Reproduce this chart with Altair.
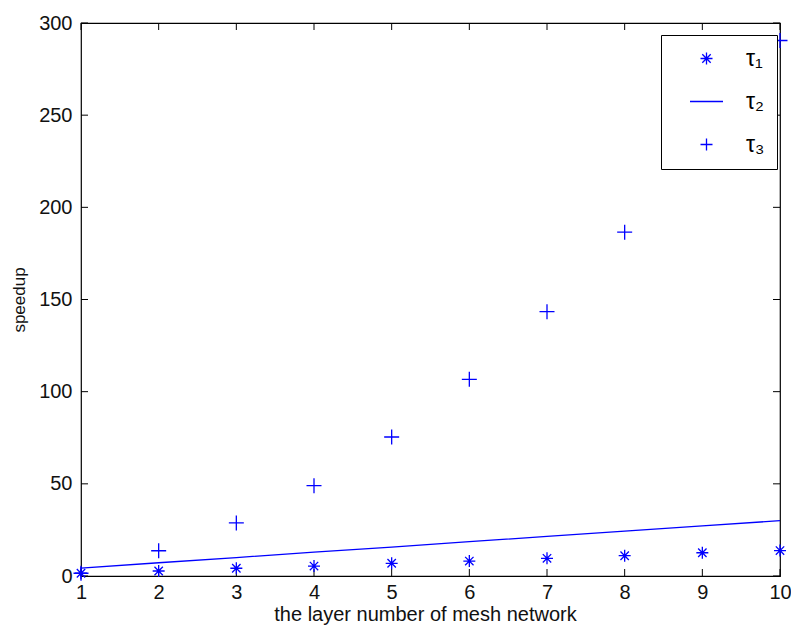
import altair as alt
import pandas as pd

BLUE = "#0000ff"
FONT = "Liberation Sans"

layers = [1, 2, 3, 4, 5, 6, 7, 8, 9, 10]
tau1 = [1.5, 2.7, 4.2, 5.4, 6.9, 8.1, 9.6, 11.0, 12.6, 13.8]
tau2 = [4.3, 7.2, 10.0, 12.9, 15.7, 18.6, 21.5, 24.3, 27.2, 30.0]
tau3 = [1.5, 13.7, 28.8, 49.0, 75.4, 106.7, 143.4, 186.5, 236.0, 290.5]
names = ["τ₁", "τ₂", "τ₃"]
x_ticks = [1, 2, 3, 4, 5, 6, 7, 8, 9, 10]
y_ticks = [0, 50, 100, 150, 200, 250, 300]

asterisk = "M-1,0H1M0,-1V1M-0.7,-0.7L0.7,0.7M-0.7,0.7L0.7,-0.7"
linepath = "M-2.75,0H2.75"
pluspath = "M-1,0H1M0,-1V1"

d1 = pd.DataFrame({"x": layers, "y": tau1, "series": [names[0]] * len(layers)})
d3 = pd.DataFrame({"x": layers, "y": tau3, "series": [names[2]] * len(layers)})
line_df = pd.DataFrame({"x": layers, "y": tau2})
xt = pd.DataFrame({"x": x_ticks})
yt = pd.DataFrame({"y": y_ticks})

W, H = 699, 553
xs = alt.Scale(domain=[1, 10], nice=False, zero=False)
ys = alt.Scale(domain=[0, 300], nice=False)

x_axis = alt.Axis(values=x_ticks, format="d", title="the layer number of mesh network",
                  labelFontSize=20, titleFontSize=20, labelPadding=6, titlePadding=2,
                  titleX=344, labelFlush=False, labelOverlap=False,
                  labelFont=FONT, titleFont=FONT, titleFontWeight="normal",
                  ticks=False, domain=False, grid=False, labelColor="#111", titleColor="#111")
y_axis = alt.Axis(values=y_ticks, format="d", title="speedup",
                  labelFontSize=20, titleFontSize=17, labelPadding=9, titlePadding=10,
                  labelFlush=False, labelOverlap=False,
                  labelFont=FONT, titleFont=FONT, titleFontWeight="normal",
                  ticks=False, domain=False, grid=False, labelColor="#111", titleColor="#111")

shape_scale = alt.Scale(domain=names, range=[asterisk, linepath, pluspath])
legend = alt.Legend(title=None, orient="none", legendX=580, legendY=12,
                    fillColor="white", strokeColor="black", padding=12,
                    symbolSize=144, symbolStrokeColor=BLUE, symbolStrokeWidth=1.3,
                    symbolFillColor="transparent", symbolOffset=22, labelOffset=28,
                    labelFontSize=23, labelFont=FONT, labelColor="black",
                    rowPadding=19, cornerRadius=0)

line = alt.Chart(line_df).mark_line(color=BLUE, strokeWidth=1.3).encode(
    x=alt.X("x:Q", scale=xs, axis=x_axis),
    y=alt.Y("y:Q", scale=ys, axis=y_axis),
)

p1 = alt.Chart(d1).mark_point(filled=False, color=BLUE, strokeWidth=1.3, opacity=1, size=144).encode(
    x=alt.X("x:Q", scale=xs),
    y=alt.Y("y:Q", scale=ys),
    shape=alt.Shape("series:N", scale=shape_scale, legend=legend),
)
p3 = alt.Chart(d3).mark_point(filled=False, color=BLUE, strokeWidth=1.3, opacity=1, size=225).encode(
    x=alt.X("x:Q", scale=xs),
    y=alt.Y("y:Q", scale=ys),
    shape=alt.Shape("series:N", scale=shape_scale, legend=legend),
)

tick_b = alt.Chart(xt).mark_rule(color="black", strokeWidth=1).encode(
    x=alt.X("x:Q", scale=xs), y=alt.value(H), y2=alt.value(H - 7))
tick_t = alt.Chart(xt).mark_rule(color="black", strokeWidth=1).encode(
    x=alt.X("x:Q", scale=xs), y=alt.value(0), y2=alt.value(7))
tick_l = alt.Chart(yt).mark_rule(color="black", strokeWidth=1).encode(
    y=alt.Y("y:Q", scale=ys), x=alt.value(0), x2=alt.value(7))
tick_r = alt.Chart(yt).mark_rule(color="black", strokeWidth=1).encode(
    y=alt.Y("y:Q", scale=ys), x=alt.value(W), x2=alt.value(W - 7))

chart = alt.layer(line, tick_b, tick_t, tick_l, tick_r, p1, p3).properties(
    width=W, height=H,
    padding={"left": 73, "top": 15, "right": 11, "bottom": 52},
    autosize=alt.AutoSizeParams(type="none"),
    background="white",
).configure_view(stroke="black", strokeWidth=1.2)

chart.save("out.html", embed_options={"renderer": "svg", "actions": False})
